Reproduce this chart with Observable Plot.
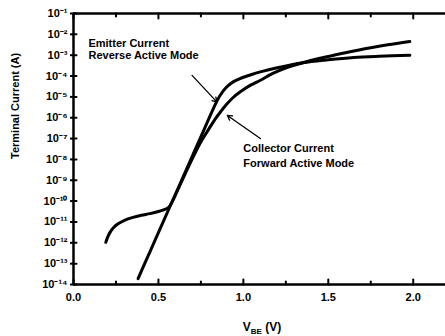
<!DOCTYPE html>
<html><head><meta charset="utf-8">
<script src="https://cdn.jsdelivr.net/npm/d3@7"></script>
<script src="https://cdn.jsdelivr.net/npm/@observablehq/plot@0.6"></script>
<style>body{margin:0;background:#fff} svg{display:block}</style>
</head><body><div id="chart"></div>
<script>
// Axis ticks
const xTicks = [0, 0.5, 1.0, 1.5, 2.0];
const xMinorTicks = [0.25, 0.75, 1.25, 1.75];
const yTickExponents = [-1, -2, -3, -4, -5, -6, -7, -8, -9, -10, -11, -12, -13, -14];

// Emitter current, reverse active mode (V_BE in V, log10 of current in A)
const emitterV   = [0.38, 0.45, 0.52, 0.60, 0.68, 0.76, 0.82, 0.86, 0.90, 0.94, 0.98, 1.04, 1.10, 1.20, 1.35, 1.50, 1.65, 1.80, 1.98];
const emitterExp = [-13.72, -12.43, -11.14, -9.67, -8.2, -6.73, -5.62, -4.97, -4.54, -4.28, -4.12, -3.95, -3.8, -3.6, -3.36, -3.22, -3.11, -3.05, -3.0];

// Collector current, forward active mode
const collectorV   = [0.19, 0.20, 0.215, 0.235, 0.26, 0.30, 0.35, 0.40, 0.45, 0.50, 0.53, 0.56, 0.62, 0.68, 0.747, 0.80, 0.835, 0.87, 0.904, 0.94, 0.98, 1.04, 1.10, 1.18, 1.26, 1.35, 1.45, 1.55, 1.65, 1.75, 1.85, 1.98];
const collectorExp = [-11.98, -11.75, -11.5, -11.28, -11.1, -10.92, -10.78, -10.68, -10.6, -10.5, -10.42, -10.3, -9.35, -8.3, -7.2, -6.5, -6.05, -5.67, -5.33, -5.03, -4.77, -4.45, -4.2, -3.85, -3.58, -3.36, -3.15, -2.97, -2.8, -2.64, -2.5, -2.34];

// Annotations
const labelLines = ["Emitter Current", "Reverse Active Mode", "Collector Current", "Forward Active Mode"];
const labelV     = [0.088, 0.088, 1.0, 1.0];
const labelExp   = [-2.44, -3.01, -7.47, -8.19];
const arrowFromV = [0.698, 1.10];
const arrowFromExp = [-3.97, -7.0];
const arrowToV   = [0.845, 0.906];
const arrowToExp = [-5.25, -5.89];

const sup = {"-": "\u207B", "0": "\u2070", "1": "\u00B9", "2": "\u00B2", "3": "\u00B3", "4": "\u2074", "5": "\u2075", "6": "\u2076", "7": "\u2077", "8": "\u2078", "9": "\u2079"};
const fmtY = d => "10" + String(Math.round(Math.log10(d))).split("").map(c => sup[c]).join("");

const yTicks = yTickExponents.map(e => Math.pow(10, e));
const emitter = emitterV.map((v, i) => ({v, i: Math.pow(10, emitterExp[i])}));
const collector = collectorV.map((v, i) => ({v, i: Math.pow(10, collectorExp[i])}));
const labels = labelLines.map((t, k) => ({t, v: labelV[k], i: Math.pow(10, labelExp[k])}));
const arrows = arrowFromV.map((v, k) => ({x1: v, y1: Math.pow(10, arrowFromExp[k]), x2: arrowToV[k], y2: Math.pow(10, arrowToExp[k])}));

const tickUp = {draw(ctx, l) { ctx.moveTo(0, 0); ctx.lineTo(0, -l); }};
const tickDown = {draw(ctx, l) { ctx.moveTo(0, 0); ctx.lineTo(0, l); }};
const tickRight = {draw(ctx, l) { ctx.moveTo(0, 0); ctx.lineTo(l, 0); }};

const font = "'Liberation Sans', Arial, sans-serif";
const plot = Plot.plot({
  width: 445, height: 336,
  marginLeft: 73, marginRight: 0, marginTop: 13, marginBottom: 52,
  style: {fontFamily: font, fontWeight: "bold", fontSize: "11px", color: "black", background: "white"},
  x: {domain: [0, 2.19]},
  y: {type: "log", domain: [1e-14, 1e-1]},
  marks: [
    Plot.axisX({anchor: "bottom", ticks: xTicks, tickSize: 0, tickPadding: 9, tickFormat: d3.format(".1f"), label: null, fontSize: 11}),
    Plot.vector(xTicks, {x: d => d, frameAnchor: "bottom", length: 5, shape: tickUp, anchor: "start", strokeWidth: 2}),
    Plot.vector(xMinorTicks, {x: d => d, frameAnchor: "bottom", length: 3, shape: tickUp, anchor: "start", strokeWidth: 2}),
    Plot.vector(xTicks, {x: d => d, frameAnchor: "top", length: 5, shape: tickDown, anchor: "start", strokeWidth: 2}),
    Plot.vector(xMinorTicks, {x: d => d, frameAnchor: "top", length: 3, shape: tickDown, anchor: "start", strokeWidth: 2}),
    Plot.axisY({anchor: "left", ticks: yTicks, tickSize: 3, tickPadding: 3, tickFormat: fmtY, label: null, strokeWidth: 2, fontSize: 11}),
    Plot.vector(yTicks, {y: d => d, frameAnchor: "left", length: 3, shape: tickRight, anchor: "start", strokeWidth: 2}),
    Plot.ruleY([1e-14], {strokeWidth: 2.5}),
    Plot.ruleY([1e-1], {strokeWidth: 2.5}),
    Plot.ruleX([0], {strokeWidth: 2.5}),
    Plot.line(emitter, {x: "v", y: "i", stroke: "black", strokeWidth: 3, curve: "catmull-rom"}),
    Plot.line(collector, {x: "v", y: "i", stroke: "black", strokeWidth: 3, curve: "catmull-rom"}),
    Plot.text(labels, {x: "v", y: "i", text: "t", textAnchor: "start", fontSize: 11, fontWeight: "bold"}),
    Plot.arrow(arrows, {x1: "x1", y1: "y1", x2: "x2", y2: "y2", stroke: "black", strokeWidth: 1.3, headLength: 6}),
    Plot.text(["Terminal Current (A)"], {frameAnchor: "left", dx: -58, dy: 10, rotate: -90, fontSize: 11, fontWeight: "bold"})
  ]
});
const svg = d3.select(plot);
const xl = svg.append("text")
  .attr("x", 262).attr("y", 331).attr("text-anchor", "middle")
  .attr("font-family", font).attr("font-weight", "bold").attr("font-size", 12).attr("fill", "black");
xl.append("tspan").text("V");
xl.append("tspan").attr("font-size", 8).attr("dy", 3).text("BE");
xl.append("tspan").attr("dy", -3).text(" (V)");
document.getElementById("chart").appendChild(plot);
</script>
</body></html>
